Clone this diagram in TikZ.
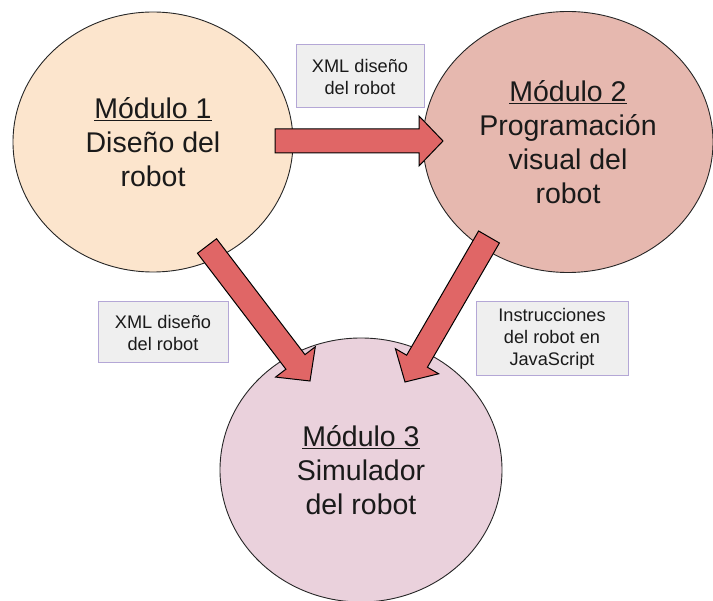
\documentclass[tikz,border=0pt]{standalone}
\usepackage{fontspec}
\setmainfont{Liberation Sans}
\usetikzlibrary{shapes.geometric,calc}
\definecolor{cOne}{HTML}{FCE5CD}
\definecolor{cTwo}{HTML}{E6B8AF}
\definecolor{cThree}{HTML}{EAD1DC}
\definecolor{arrowred}{HTML}{E06666}
\definecolor{boxfill}{HTML}{EFEFEF}
\definecolor{boxline}{HTML}{B4A7D6}
\definecolor{txt}{HTML}{1A1A1A}
\tikzset{
  modnode/.style={ellipse, draw=black!85, line width=0.9pt, inner sep=0pt,
    align=center, text=txt, font=\fontsize{28.5}{34}\selectfont},
  labelbox/.style={rectangle, draw=boxline, fill=boxfill, line width=1pt,
    inner sep=0pt, align=center, text=txt, font=\fontsize{18.2}{22}\selectfont},
  blockarrow/.style={draw=black, fill=arrowred, line width=1pt, line join=miter},
}
\newcommand\blockarr[3]{%
  \coordinate (#3) at ($(#2)!24pt!(#1)$);
  \draw[blockarrow] ($(#1)!12pt!90:(#2)$) -- ($(#3)!12pt!90:(#2)$) -- ($(#3)!25pt!90:(#2)$)
    -- (#2) -- ($(#3)!25pt!-90:(#2)$) -- ($(#3)!12pt!-90:(#2)$) -- ($(#1)!12pt!-90:(#2)$) -- cycle;}
\begin{document}
\begin{tikzpicture}[x=1pt,y=-1pt]
\useasboundingbox (0,0) rectangle (713,601);
\node[modnode, fill=cOne, minimum width=280pt, minimum height=260pt] (m1) at (153,142)
  {\underline{Módulo 1}\\Diseño del\\robot};
\node[modnode, fill=cTwo, minimum width=290pt, minimum height=261pt] (m2) at (568,142)
  {\underline{Módulo 2}\\Programación\\visual del\\robot};
\node[modnode, fill=cThree, minimum width=282pt, minimum height=264pt] (m3) at (361,470)
  {\underline{Módulo 3}\\Simulador\\del robot};
\node[labelbox, minimum width=128pt, minimum height=63pt] (b1) at (360,76.5) {XML diseño\\del robot};
\node[labelbox, minimum width=130pt, minimum height=61pt] (b2) at (163,332.5) {XML diseño\\del robot};
\node[labelbox, minimum width=152pt, minimum height=74pt] (b3) at (552,339) {Instrucciones\\del robot en\\JavaScript};
\coordinate (a1s) at (275,141);
\coordinate (a1e) at (443,141);
\coordinate (a2s) at (207,246);
\coordinate (a2e) at (310,381);
\coordinate (a3s) at (489,237);
\coordinate (a3e) at (405,382);
\blockarr{a1s}{a1e}{h1}
\blockarr{a2s}{a2e}{h2}
\blockarr{a3s}{a3e}{h3}
\end{tikzpicture}
\end{document}
